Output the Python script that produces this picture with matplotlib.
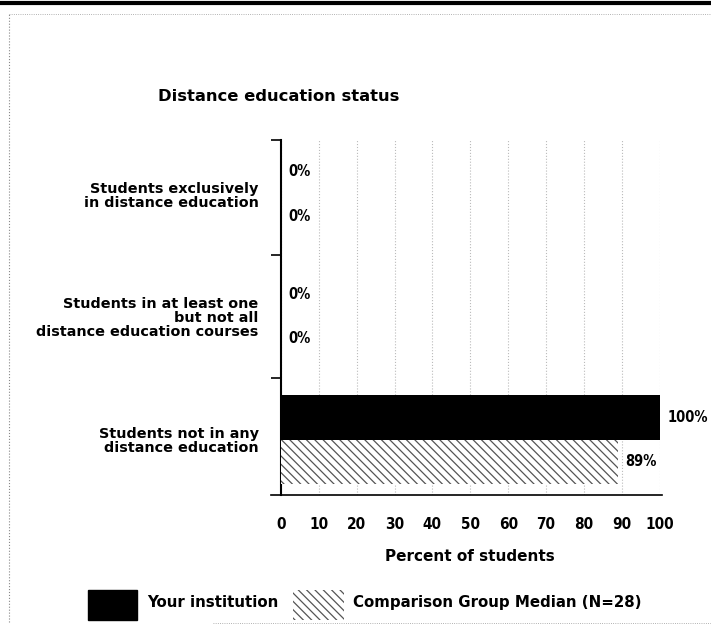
import numpy as np
import matplotlib.pyplot as plt
from matplotlib.patches import Rectangle
from matplotlib.lines import Line2D

# Data
categories = ['Students exclusively\nin distance education',
              'Students in at least one\nbut not all\ndistance education courses',
              'Students not in any\ndistance education']
your_institution = [0, 0, 100]
comparison_median = [0, 0, 89]
xticks = [0, 10, 20, 30, 40, 50, 60, 70, 80, 90, 100]

plt.rcParams['font.family'] = ['DejaVu Sans']
plt.rcParams['font.weight'] = 'bold'
plt.rcParams['axes.labelweight'] = 'bold'
plt.rcParams['hatch.linewidth'] = 0.9

fig = plt.figure(figsize=(7.11, 6.28), dpi=100)
ax = fig.add_axes([0.395, 0.212, 0.533, 0.565])

y = np.arange(len(categories))
h = 0.36
ax.barh(y - h / 2, your_institution, height=h, color='black', zorder=3)
ax.barh(y + h / 2, comparison_median, height=h, color='white', edgecolor='#555555',
        hatch='\\\\\\\\', linewidth=0, zorder=3)

for yi, v in zip(y, your_institution):
    ax.text(v + 2.0, yi - h / 2, f'{v}%', va='center', ha='left', fontsize=10.5,
            fontstretch='condensed')
for yi, v in zip(y, comparison_median):
    ax.text(v + 2.0, yi + h / 2, f'{v}%', va='center', ha='left', fontsize=10.5,
            fontstretch='condensed')

ax.set_xlim(0, 100)
ax.set_ylim(2.45, -0.44)
ax.set_xticks(xticks)
ax.set_xticklabels([str(t) for t in xticks], fontsize=11, fontstretch='condensed')
ax.tick_params(axis='x', length=0, pad=16)
ax.set_yticks(y)
ax.set_yticklabels(categories, fontsize=10.4, linespacing=1.0)
ax.tick_params(axis='y', which='major', length=0, pad=16)
ax.set_yticks([-0.44, 0.5, 1.5], minor=True)
ax.tick_params(axis='y', which='minor', length=7, width=1.2, direction='out')
ax.xaxis.grid(True, linestyle=':', color='#bbbbbb', linewidth=0.8, zorder=0)
ax.set_axisbelow(True)

for s in ['top', 'right']:
    ax.spines[s].set_visible(False)
ax.spines['left'].set_linewidth(1.5)
ax.spines['bottom'].set_linewidth(1.2)
ax.spines['bottom'].set_bounds(-2.5, 100.5)

ax.set_xlabel('Percent of students', fontsize=11, labelpad=12)

fig.text(0.222, 0.847, 'Distance education status', fontsize=11.8, ha='left', va='center')

# Legend drawn as figure patches
fig.patches.append(Rectangle((0.124, 0.013), 0.069, 0.047, transform=fig.transFigure,
                             facecolor='black', edgecolor='black'))
fig.text(0.207, 0.041, 'Your institution', fontsize=10.8, ha='left', va='center')
fig.patches.append(Rectangle((0.412, 0.013), 0.072, 0.047, transform=fig.transFigure,
                             facecolor='white', edgecolor='#555555', hatch='\\\\\\\\',
                             linewidth=0))
fig.text(0.496, 0.041, 'Comparison Group Median (N=28)', fontsize=10.8, ha='left', va='center')

# Scanned page border
fig.lines.append(Line2D([0, 1], [0.996, 0.996], transform=fig.transFigure,
                        color='black', linewidth=3))
fig.lines.append(Line2D([0.012, 1], [0.978, 0.978], transform=fig.transFigure,
                        color='#999999', linewidth=0.6, linestyle=':'))
fig.lines.append(Line2D([0.012, 0.012], [0.01, 0.978], transform=fig.transFigure,
                        color='#888888', linewidth=0.8, linestyle=':'))
fig.lines.append(Line2D([0.3, 1], [0.008, 0.008], transform=fig.transFigure,
                        color='#999999', linewidth=0.6, linestyle=':'))

fig.savefig('out.png', dpi=100)
